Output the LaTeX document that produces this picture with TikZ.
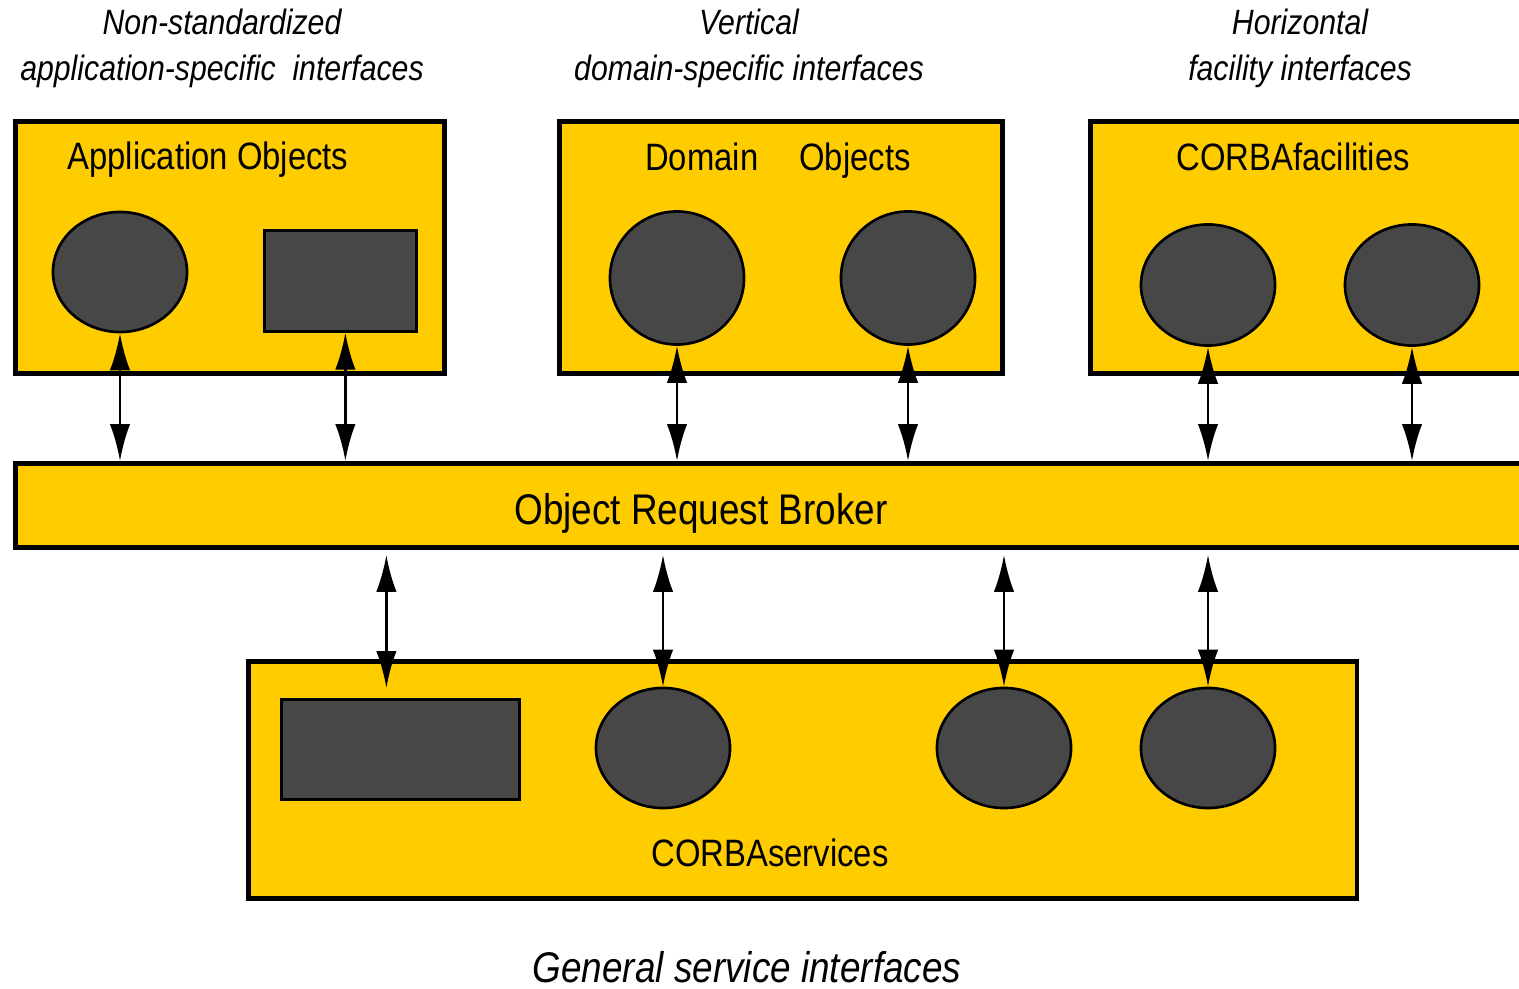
\documentclass[tikz,border=0pt]{standalone}
\usepackage{fontspec}
\setmainfont[FakeStretch=0.86]{Liberation Sans}
\usetikzlibrary{arrows.meta,shapes.geometric}
\definecolor{orbyellow}{RGB}{255,204,0}
\definecolor{objgray}{RGB}{71,71,71}
\tikzset{
  box/.style={draw,line width=1.3pt,fill=orbyellow,anchor=north west,inner sep=0pt},
  obj/.style={ellipse,draw,line width=0.75pt,fill=objgray,inner sep=0pt,minimum width=1.34cm},
  blk/.style={draw,line width=0.75pt,fill=objgray,anchor=north west,inner sep=0pt},
  link/.style={{Latex[length=10.5pt,width=5.8pt]}-{Latex[length=10.5pt,width=5.8pt]},line width=0.75pt},
  title/.style={align=center,anchor=base,inner sep=0pt,font=\fontsize{10pt}{13.1pt}\selectfont\itshape},
  label/.style={anchor=base,inner sep=0pt,font=\fontsize{10.85pt}{12pt}\selectfont},
}
\begin{document}
\begin{tikzpicture}[x=0.01cm,y=-0.01cm]
  \useasboundingbox (0,0) rectangle (1519,989);
  \clip (0,0) rectangle (1519,989);
  % titles above the boxes
  \node[title] (T1) at (222,81) {Non-standardized\\application-specific\ \ interfaces};
  \node[title] (T2) at (749,81) {Vertical\\domain-specific interfaces};
  \node[title] (T3) at (1300,81) {Horizontal\\facility interfaces};
  % the three upper boxes
  \node[box,minimum width=4.29cm,minimum height=2.52cm] (A) at (13,119) {};
  \node[box,minimum width=4.43cm,minimum height=2.52cm] (D) at (557,119) {};
  \node[box,minimum width=4.60cm,minimum height=2.52cm] (F) at (1088,119) {};
  \node[label] (LA) at (208,170) {Application Objects};
  \node[label] (LD) at (778,171) {Domain\hspace{0.32cm} Objects};
  \node[label] (LF) at (1293,171) {CORBAfacilities};
  % broker bar and services box
  \node[box,minimum width=15.4cm,minimum height=0.84cm] (orb) at (13,461) {};
  \node[label,font=\fontsize{12.2pt}{14pt}\selectfont] (LO) at (701,525) {Object Request Broker};
  \node[box,minimum width=11.08cm,minimum height=2.37cm] (S) at (246,659) {};
  \node[label] (LS) at (770,866) {CORBAservices};
  \node[title,font=\fontsize{12.2pt}{14pt}\selectfont\itshape] (LG) at (747,982) {General service interfaces};
  % objects
  \foreach \n/\x/\y/\h in {A1/120/272/1.2, D1/677/278/1.33, D2/908/278/1.33, F1/1208/285/1.21,
      F2/1412/285/1.21, S2/663/748/1.2, S3/1004/748/1.2, S4/1208/748/1.2}{
    \node[obj,minimum height=\h cm] (\n) at (\x,\y) {};
  }
  \node[blk,minimum width=1.52cm,minimum height=1.01cm] (A2) at (263,229) {};
  \node[blk,minimum width=2.38cm,minimum height=1.0cm] (S1) at (280,698) {};
  % links to the broker
  \foreach \n/\d in {A1/0cm,A2/0.05cm,D1/0cm,D2/0cm,F1/0cm,F2/0cm}{
    \draw[link] ([xshift=\d]\n.south) -- ([xshift=\d]\n.south |- orb.north);
  }
  \foreach \n/\d/\s in {S1/-0.14cm/0.1cm,S2/0cm/0pt,S3/0cm/0pt,S4/0cm/0pt}{
    \draw[link,shorten <=1.5pt,shorten >=\s] ([xshift=\d]\n.north |- orb.south) -- ([xshift=\d]\n.north);
  }
\end{tikzpicture}
\end{document}
